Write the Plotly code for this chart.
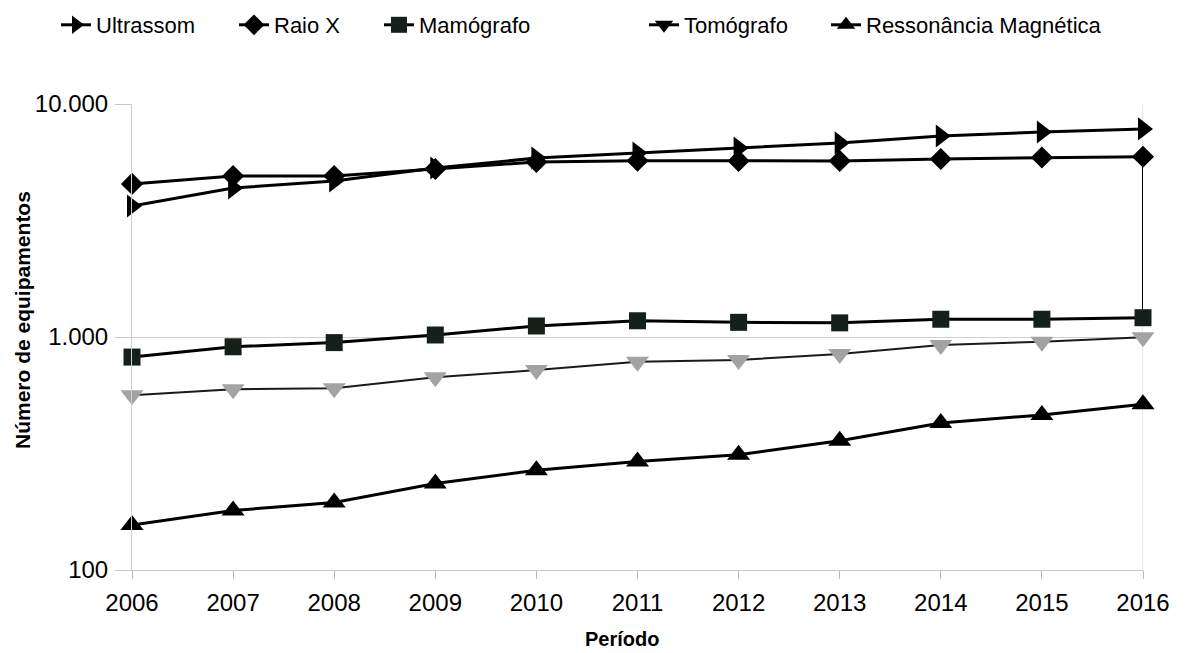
import plotly.graph_objects as go

anos = [2006, 2007, 2008, 2009, 2010, 2011, 2012, 2013, 2014, 2015, 2016]
ultrassom = [3650, 4360, 4670, 5310, 5860, 6160, 6470, 6810, 7290, 7580, 7820]
raio_x = [4540, 4910, 4910, 5260, 5640, 5710, 5700, 5700, 5810, 5890, 5940]
mamografo = [820, 908, 946, 1020, 1115, 1174, 1156, 1150, 1192, 1192, 1210]
tomografo = [563, 597, 602, 671, 721, 783, 797, 845, 925, 955, 998]
ressonancia = [156, 180, 195, 235, 268, 292, 312, 359, 427, 463, 515]

y_tickvals = [100, 1000, 10000]
y_ticktext = ["100", "1.000", "10.000"]

FONT = "Liberation Sans, Arial, sans-serif"
W, H = 1191, 653

# legend positions (figure px)
legend_x_px = [48, 226, 371, 636, 818]

fig = go.Figure()
series = [
    ("Ultrassom", ultrassom, "triangle-right", 20, "black", "black", 3),
    ("Raio X", raio_x, "diamond", 17, "black", "black", 3),
    ("Mamógrafo", mamografo, "square", 17, "#15201b", "black", 3),
    ("Tomógrafo", tomografo, "triangle-down", 20, "#a3a3a3", "#1a1a1a", 2),
    ("Ressonância Magnética", ressonancia, "triangle-up", 20, "black", "black", 3),
]
legend_names = ["legend", "legend2", "legend3", "legend4", "legend5"]

# vertical connector seen at the last year between Raio X and Mamógrafo
fig.add_trace(go.Scatter(
    x=[anos[-1], anos[-1]], y=[raio_x[-1], mamografo[-1]], mode="lines",
    line=dict(color="black", width=2), showlegend=False, hoverinfo="skip",
    cliponaxis=False,
))

for i, (name, vals, sym, size, mcol, lcol, lw) in enumerate(series):
    is_tomo = name == "Tomógrafo"
    fig.add_trace(go.Scatter(
        x=anos, y=vals, name=name, mode="lines+markers",
        line=dict(color=lcol, width=lw),
        marker=dict(symbol=sym, size=size, color=mcol, line=dict(width=0)),
        cliponaxis=False, legend=legend_names[i],
        showlegend=not is_tomo,
    ))
    if is_tomo:
        fig.add_trace(go.Scatter(
            x=[None], y=[None], name=name, mode="lines+markers",
            line=dict(color="black", width=3),
            marker=dict(symbol=sym, size=size, color="black", line=dict(width=0)),
            legend=legend_names[i], showlegend=True,
        ))

legend_common = dict(orientation="h", xref="container", yref="container",
                     y=1 - 17 / H, yanchor="middle", xanchor="left",
                     font=dict(size=22, family=FONT, color="black"),
                     bgcolor="rgba(0,0,0,0)", borderwidth=0)
layout_legends = {}
for ln, px in zip(legend_names, legend_x_px):
    layout_legends[ln] = dict(x=px / W, **legend_common)

fig.update_layout(
    width=W, height=H,
    paper_bgcolor="white", plot_bgcolor="white",
    margin=dict(l=124, r=56, t=96, b=91),
    font=dict(family=FONT, color="black", size=24),
    showlegend=True,
    xaxis=dict(
        range=[2006, 2016], tickmode="array", tickvals=anos,
        ticks="outside", ticklen=8, tickcolor="#b8b8b8",
        showgrid=False, showline=True, linecolor="#c8c8c8", linewidth=1,
        mirror=False, zeroline=False, automargin=False,
        tickfont=dict(size=24), ticklabelstandoff=3,
    ),
    yaxis=dict(
        type="log", range=[2, 4], tickmode="array",
        tickvals=y_tickvals, ticktext=y_ticktext,
        ticks="outside", ticklen=16, tickcolor="#c8c8c8",
        showgrid=True, gridcolor="#d0d0d0", gridwidth=1,
        showline=True, linecolor="#d0d0d0", linewidth=1, zeroline=False,
        automargin=False, tickfont=dict(size=24), ticklabelstandoff=2,
    ),
    annotations=[
        dict(text="<b>Número de equipamentos</b>", xref="paper", yref="paper",
             x=-(124 - 14) / (W - 124 - 56), y=0.5 - (312 - (96 + 233)) / 466,
             xanchor="center", yanchor="middle", textangle=-90,
             showarrow=False, font=dict(size=21, family=FONT, color="black")),
        dict(text="<b>Período</b>", xref="paper", yref="paper",
             x=(614 - 124) / (W - 124 - 56), y=-(631 - 562) / 466,
             xanchor="center", yanchor="middle",
             showarrow=False, font=dict(size=20, family=FONT, color="black")),
    ],
    **layout_legends,
)
fig.add_shape(type="line", xref="x", yref="paper", x0=2016, x1=2016, y0=0, y1=1,
              line=dict(color="#d0d0d0", width=1), layer="below")

fig.write_html("out.html")
